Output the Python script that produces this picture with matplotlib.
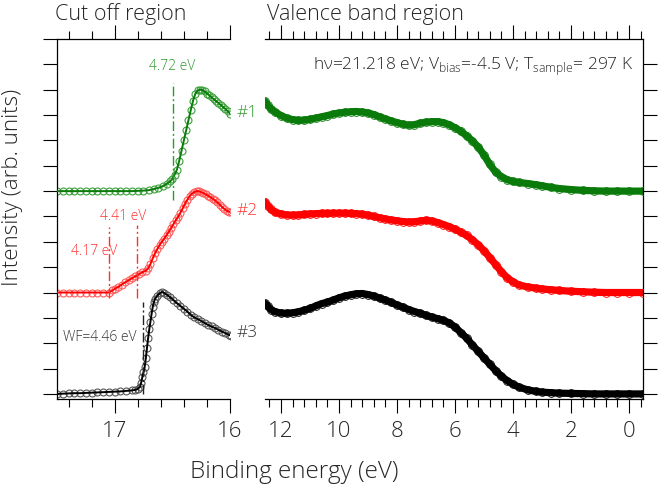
import numpy as np
import matplotlib
matplotlib.use("Agg")
import matplotlib.pyplot as plt
from matplotlib.ticker import MultipleLocator

plt.rcParams['font.family'] = ['Open Sans', 'DejaVu Sans']
plt.rcParams['font.weight'] = 'light'
plt.rcParams['mathtext.fontset'] = 'custom'
plt.rcParams['mathtext.rm'] = 'Open Sans:light'

# ---- cut off region (binding energy eV, intensity) ----
cut1_e = [17.50, 17.45, 17.40, 17.35, 17.30, 17.25, 17.20, 17.15, 17.10, 17.05, 17.00,
          16.95, 16.90, 16.85, 16.80, 16.75, 16.70, 16.66, 16.62, 16.58, 16.55, 16.52,
          16.50, 16.48, 16.46, 16.44, 16.42, 16.40, 16.38, 16.36, 16.34, 16.32, 16.30,
          16.28, 16.26, 16.24, 16.22, 16.20, 16.18, 16.16, 16.14, 16.12, 16.10, 16.08,
          16.06, 16.04, 16.02, 16.00]
cut1_i = [8.00, 8.00, 8.00, 8.00, 8.00, 8.00, 8.00, 8.00, 8.00, 8.00, 8.00,
          8.00, 8.00, 8.00, 8.01, 8.02, 8.04, 8.08, 8.13, 8.20, 8.28, 8.38,
          8.48, 8.65, 8.85, 9.20, 9.60, 10.00, 10.40, 10.80, 11.20, 11.57, 11.85,
          11.97, 12.00, 11.98, 11.93, 11.85, 11.78, 11.70, 11.62, 11.55, 11.47, 11.40,
          11.32, 11.24, 11.15, 11.06]

cut2_e = [17.50, 17.45, 17.40, 17.35, 17.30, 17.25, 17.20, 17.15, 17.10, 17.05, 17.02,
          17.00, 16.97, 16.94, 16.91, 16.88, 16.85, 16.82, 16.79, 16.76, 16.73, 16.71,
          16.69, 16.67, 16.65, 16.63, 16.61, 16.59, 16.57, 16.55, 16.53, 16.51, 16.49,
          16.47, 16.45, 16.43, 16.41, 16.39, 16.37, 16.35, 16.33, 16.31, 16.29, 16.27,
          16.25, 16.23, 16.21, 16.19, 16.17, 16.15, 16.13, 16.11, 16.09, 16.07, 16.05,
          16.03, 16.01, 15.99]
cut2_i = [4.00, 4.00, 4.00, 4.00, 4.00, 4.00, 4.00, 4.00, 4.00, 4.00, 4.08,
          4.14, 4.22, 4.31, 4.40, 4.48, 4.56, 4.64, 4.72, 4.80, 4.86, 4.95,
          5.12, 5.35, 5.55, 5.72, 5.88, 6.00, 6.13, 6.26, 6.40, 6.55, 6.70,
          6.85, 6.98, 7.15, 7.32, 7.50, 7.66, 7.80, 7.90, 7.96, 8.00, 7.99,
          7.96, 7.92, 7.87, 7.82, 7.76, 7.70, 7.63, 7.56, 7.47, 7.38, 7.30,
          7.23, 7.19, 7.17]

cut3_e = [17.50, 17.45, 17.40, 17.35, 17.30, 17.25, 17.20, 17.15, 17.10, 17.05, 17.00,
          16.95, 16.90, 16.85, 16.82, 16.80, 16.78, 16.77, 16.76, 16.75, 16.74, 16.73,
          16.72, 16.71, 16.70, 16.69, 16.68, 16.67, 16.66, 16.65, 16.63, 16.61, 16.59,
          16.57, 16.55, 16.52, 16.49, 16.46, 16.43, 16.40, 16.37, 16.34, 16.31, 16.28,
          16.25, 16.22, 16.19, 16.16, 16.13, 16.10, 16.07, 16.04, 16.01, 15.99]
cut3_i = [0.00, 0.01, 0.02, 0.03, 0.03, 0.04, 0.05, 0.06, 0.07, 0.08, 0.09,
          0.10, 0.12, 0.14, 0.16, 0.20, 0.28, 0.45, 0.67, 0.85, 1.05, 1.40,
          1.80, 2.20, 2.55, 2.85, 3.15, 3.43, 3.62, 3.75, 3.88, 3.97, 4.02,
          3.98, 3.92, 3.82, 3.70, 3.58, 3.47, 3.36, 3.25, 3.12, 3.02, 2.95,
          2.88, 2.80, 2.72, 2.66, 2.60, 2.53, 2.46, 2.40, 2.33, 2.30]

# ---- valence band region ----
vb_e = [12.55, 12.45, 12.35, 12.2, 12.0, 11.8, 11.6, 11.4, 11.2, 11.0, 10.8, 10.6,
        10.4, 10.2, 10.0, 9.8, 9.6, 9.4, 9.2, 9.0, 8.8, 8.6, 8.4, 8.2, 8.0, 7.8,
        7.6, 7.4, 7.2, 7.0, 6.8, 6.6, 6.4, 6.2, 6.0, 5.8, 5.6, 5.4, 5.2, 5.0, 4.8,
        4.6, 4.4, 4.2, 4.0, 3.8, 3.5, 3.2, 3.0, 2.7, 2.4, 2.0, 1.6, 1.2, 0.8, 0.4,
        0.0, -0.48]
vb1_i = [11.54, 11.38, 11.25, 11.12, 10.98, 10.88, 10.82, 10.79, 10.80, 10.83, 10.88, 10.93,
         10.98, 11.04, 11.08, 11.11, 11.13, 11.14, 11.12, 11.08, 11.02, 10.93, 10.85, 10.77, 10.70, 10.64,
         10.60, 10.62, 10.68, 10.72, 10.74, 10.74, 10.70, 10.62, 10.50, 10.36, 10.18, 9.98, 9.74, 9.42, 9.05,
         8.75, 8.57, 8.45, 8.38, 8.34, 8.30, 8.25, 8.21, 8.15, 8.10, 8.06, 8.03, 8.01, 8.00, 8.00,
         8.00, 8.00]
vb2_i = [7.57, 7.42, 7.28, 7.16, 7.10, 7.06, 7.05, 7.06, 7.08, 7.10, 7.11, 7.12,
         7.12, 7.13, 7.13, 7.13, 7.12, 7.11, 7.09, 7.05, 7.00, 6.95, 6.90, 6.86, 6.83, 6.80,
         6.78, 6.79, 6.82, 6.85, 6.82, 6.76, 6.68, 6.60, 6.50, 6.38, 6.25, 6.08, 5.88, 5.65, 5.38,
         5.10, 4.82, 4.58, 4.42, 4.30, 4.22, 4.17, 4.14, 4.11, 4.08, 4.05, 4.03, 4.01, 4.00, 4.00,
         4.00, 4.00]
vb3_i = [3.57, 3.45, 3.33, 3.24, 3.19, 3.18, 3.20, 3.24, 3.30, 3.37, 3.47, 3.56,
         3.62, 3.70, 3.79, 3.86, 3.91, 3.95, 3.96, 3.92, 3.86, 3.78, 3.70, 3.61, 3.51, 3.42,
         3.33, 3.25, 3.18, 3.10, 3.03, 2.97, 2.90, 2.80, 2.64, 2.42, 2.20, 1.93, 1.68, 1.42, 1.17,
         0.92, 0.70, 0.52, 0.38, 0.27, 0.16, 0.10, 0.07, 0.05, 0.03, 0.02, 0.01, 0.00, 0.00, 0.00,
         0.00, 0.00]

# work function cut-off markers
hv = 21.218
wf_vals = [4.72, 4.41, 4.17, 4.46]
wf_spans = [(7.64, 12.28), (3.78, 6.65), (3.78, 6.60), (0.0, 3.62)]

line_cols = ['#0a7a0a', '#ff0000', '#000000']
mark_cols = ['#3aa03a', '#ff5a5a', '#555555']
text_cols = ['#2e9a2e', '#ff3030', '#333333']
txt = '#262626'

fig = plt.figure(figsize=(6.61, 4.87), dpi=100)
ax1 = fig.add_axes([57 / 661, 1 - 399 / 487, 173 / 661, 360 / 487])
ax2 = fig.add_axes([265 / 661, 1 - 399 / 487, 378 / 661, 360 / 487])

cuts = [(cut1_e, cut1_i), (cut2_e, cut2_i), (cut3_e, cut3_i)]
for k, (e, i) in enumerate(cuts):
    ax1.plot(e, i, '-', color=line_cols[k], lw=1.4, zorder=3)
    ax1.plot(e, i, 'o', mfc='none', mec=mark_cols[k], mew=0.8, ms=5, zorder=2)

for k, i in enumerate([vb1_i, vb2_i, vb3_i]):
    ax2.plot(vb_e, i, '-', color=line_cols[k], lw=5.2, solid_capstyle='round', zorder=2)
    ax2.plot(vb_e, i, 'o', mfc='none', mec=line_cols[k], mew=0.6, ms=5.6, zorder=3)

# dash-dot cut-off lines and labels
wf_cols = [text_cols[0], text_cols[1], text_cols[1], '#222222']
for k, wf in enumerate(wf_vals):
    ax1.plot([hv - wf, hv - wf], wf_spans[k], color=wf_cols[k], lw=1.0,
             ls=(0, (7, 2, 1.5, 2)), zorder=4)
ax1.text(hv - 4.72, 12.6, '4.72 eV', color=text_cols[0], fontsize=10, ha='center', va='bottom')
ax1.text(16.93, 7.0, '4.41 eV', color=text_cols[1], fontsize=10, ha='center', va='center')
ax1.text(17.18, 5.6, '4.17 eV', color=text_cols[1], fontsize=10, ha='center', va='center')
ax1.text(17.45, 2.24, 'WF=4.46 eV', color='#333333', fontsize=10, ha='left', va='center')

for k, (lab, y) in enumerate(zip(['#1', '#2', '#3'], [11.1, 7.2, 2.42])):
    ax1.text(15.94, y, lab, color=text_cols[k], fontsize=12.5, ha='left', va='center', clip_on=False)

ax2.text(0.975, 0.914, 'h\u03bd=21.218 eV; V$_{\\rm bias}$=-4.5 V; T$_{\\rm sample}$= 297 K',
         transform=ax2.transAxes, fontsize=12.5, ha='right', va='baseline', color=txt)

# axes styling
for ax in (ax1, ax2):
    ax.set_ylim(-0.2, 14)
    ax.set_facecolor('none')
    ax.xaxis.set_ticks_position('both')
    ax.tick_params(axis='x', which='major', direction='out', length=10, width=0.8,
                   labelsize=16, labelcolor=txt, pad=6)
    ax.tick_params(axis='x', which='minor', direction='out', length=5.5, width=0.8)
    ax.tick_params(axis='x', labeltop=False)
    for s in ax.spines.values():
        s.set_linewidth(0.9)

ax1.set_xlim(17.5, 16.0)
ax1.xaxis.set_major_locator(MultipleLocator(1))
ax1.xaxis.set_minor_locator(MultipleLocator(0.2))
ax1.set_yticks(np.arange(0, 15))
ax1.tick_params(axis='y', direction='out', length=10, width=0.8, labelleft=False)
ax1.spines['right'].set_visible(False)

ax2.set_xlim(12.55, -0.48)
ax2.xaxis.set_major_locator(MultipleLocator(2))
ax2.xaxis.set_minor_locator(MultipleLocator(0.4))
ax2.set_yticks(np.arange(0, 14))
ax2.yaxis.set_ticks_position('right')
ax2.tick_params(axis='y', direction='out', length=10, width=0.8, labelright=False)
ax2.spines['left'].set_visible(False)

fig.text(55 / 661, 1 - 20 / 487, 'Cut off region', fontsize=15.5, color=txt, va='baseline')
fig.text(267 / 661, 1 - 20 / 487, 'Valence band region', fontsize=15.5, color=txt, va='baseline')
fig.text(294 / 661, 1 - 478 / 487, 'Binding energy (eV)', fontsize=17.5, color=txt,
         ha='center', va='baseline')
fig.text(23 / 661, 1 - 187 / 487, 'Intensity (arb. units)', fontsize=16, color=txt,
         rotation=90, ha='right', va='center')

fig.savefig('out.png', dpi=100)
